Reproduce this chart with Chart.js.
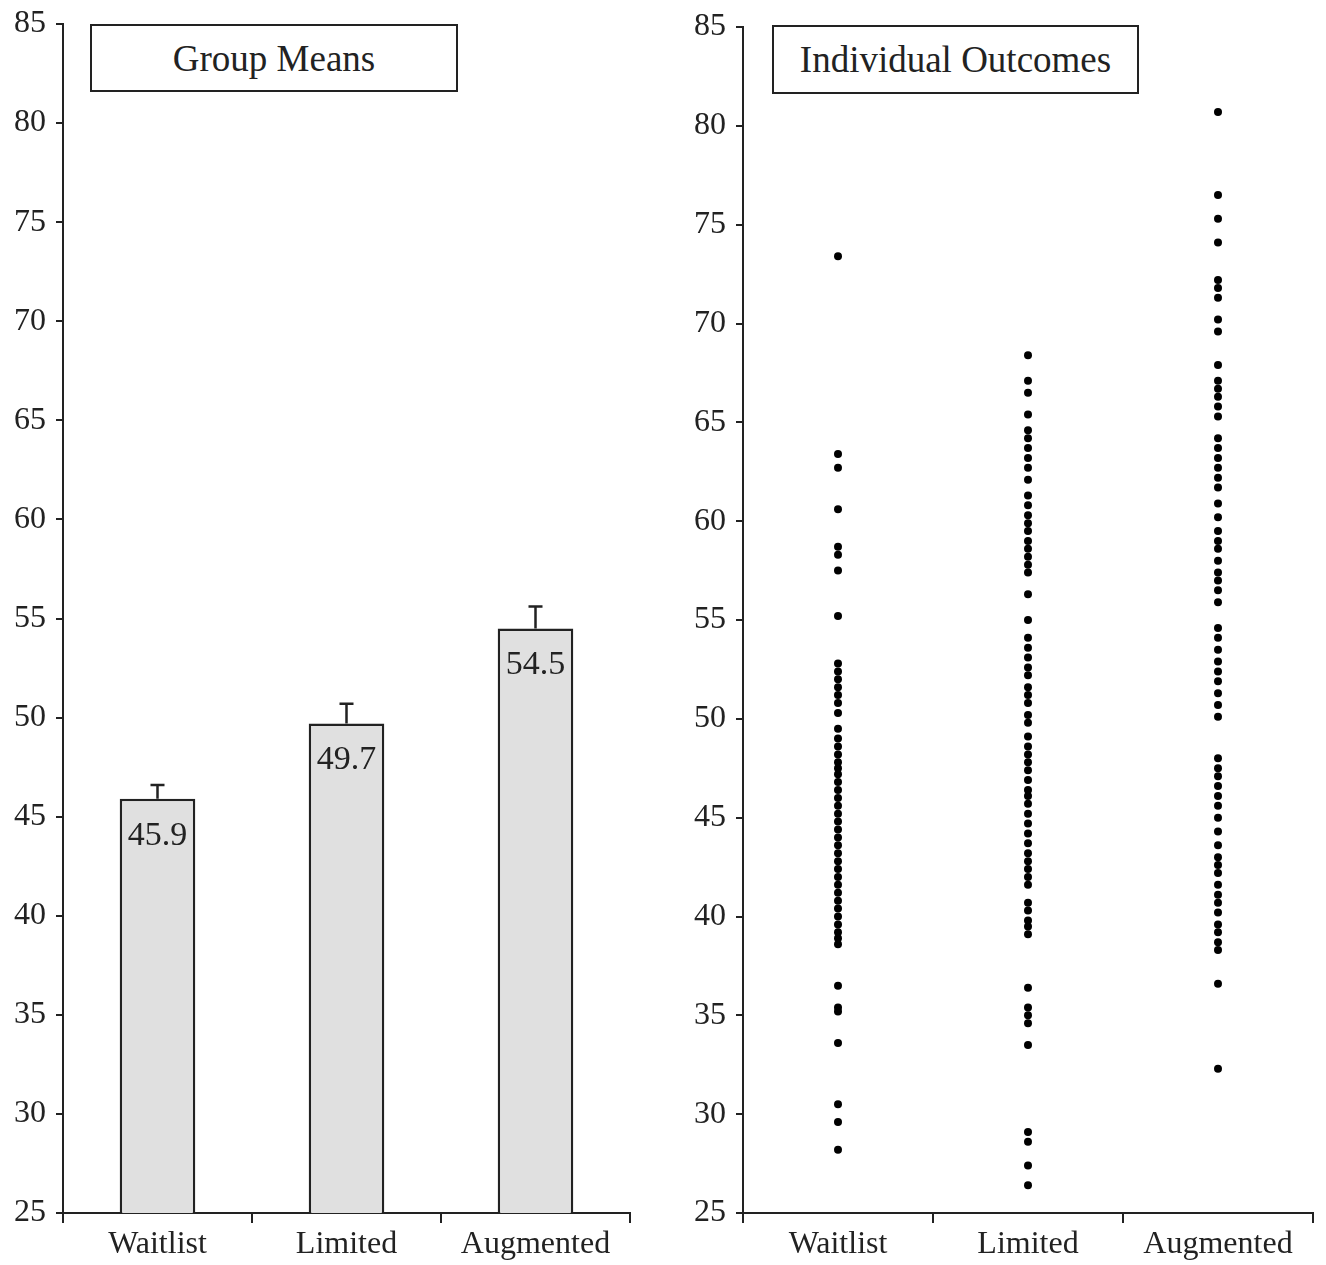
<!DOCTYPE html>
<html>
<head>
<meta charset="utf-8">
<script src="https://cdn.jsdelivr.net/npm/chart.js@4/dist/chart.umd.min.js"></script>
<style>
  body { margin: 0; background: #fff; }
  #wrap { position: relative; width: 1326px; height: 1265px; }
  .pane { position: absolute; top: 0; height: 1265px; }
  .box {
    position: absolute; border: 2px solid #222; background: #fff;
    font-family: "Liberation Serif", serif; font-size: 37px; color: #222;
    display: flex; align-items: center; justify-content: center; box-sizing: border-box;
  }
</style>
</head>
<body>
<div id="wrap">
  <div class="pane" style="left:0;width:660px"><canvas id="left" width="660" height="1265"></canvas></div>
  <div class="pane" style="left:660px;width:666px"><canvas id="right" width="666" height="1265"></canvas></div>
  <div class="box" style="left:90px;top:24px;width:368px;height:68px">Group Means</div>
  <div class="box" style="left:772px;top:25px;width:367px;height:69px">Individual Outcomes</div>
</div>
<script>
const categories = ["Waitlist", "Limited", "Augmented"]
const groupMeans = [45.9, 49.7, 54.5]
const groupErr = [0.7, 1.0, 1.1]

const waitlist = [73.4, 63.4, 62.7, 60.6, 58.7, 58.3, 57.5, 55.2, 52.8, 52.4, 52.0, 51.6, 51.2, 50.8, 50.3,
  49.5, 49.0, 48.6, 48.2, 47.8, 47.5, 47.2, 46.8, 46.4, 46.0, 45.6, 45.2, 44.8, 44.4, 44.0, 43.6, 43.2,
  42.8, 42.4, 42.0, 41.6, 41.2, 40.8, 40.4, 40.0, 39.6, 39.2, 38.9, 38.6, 36.5, 35.4, 35.2, 33.6, 30.5, 29.6, 28.2]
const limited = [68.4, 67.1, 66.5, 65.4, 64.6, 64.2, 63.7, 63.2, 62.7, 62.1, 61.3, 60.8, 60.3, 59.9, 59.5,
  59.0, 58.6, 58.2, 57.8, 57.4, 56.3, 55.0, 54.1, 53.6, 53.1, 52.6, 52.2, 51.6, 51.2, 50.8, 50.2, 49.8,
  49.1, 48.6, 48.2, 47.8, 47.4, 46.9, 46.4, 46.1, 45.7, 45.2, 44.7, 44.2, 43.7, 43.2, 42.8, 42.4, 42.0,
  41.6, 40.7, 40.3, 39.8, 39.5, 39.1, 36.4, 35.4, 35.0, 34.6, 33.5, 29.1, 28.6, 27.4, 26.4]
const augmented = [80.7, 76.5, 75.3, 74.1, 72.2, 71.8, 71.3, 70.2, 69.6, 67.9, 67.1, 66.7, 66.3, 65.8, 65.3,
  64.2, 63.7, 63.2, 62.7, 62.2, 61.7, 60.9, 60.2, 59.5, 59.0, 58.6, 58.0, 57.4, 57.0, 56.5, 55.9, 54.6,
  54.1, 53.5, 52.9, 52.4, 51.9, 51.3, 50.7, 50.1, 48.0, 47.5, 47.1, 46.6, 46.1, 45.6, 45.0, 44.3, 43.6,
  43.0, 42.6, 42.2, 41.6, 41.1, 40.7, 40.2, 39.6, 39.2, 38.7, 38.3, 36.6, 32.3]

const yMin = 25, yMax = 85, yStep = 5

const serif = "'Liberation Serif', 'Times New Roman', serif"
const ink = "#222"

function axes(yWidth) {
  return {
    x: {
      type: "category",
      labels: categories,
      offset: true,
      border: { display: true, color: ink, width: 2 },
      grid: { display: true, offset: true, drawOnChartArea: false, drawTicks: true, tickLength: 10, color: ink, lineWidth: 2 },
      ticks: { color: ink, font: { family: serif, size: 32 }, padding: 2, maxRotation: 0, autoSkip: false },
      afterFit: (s) => { s.height = 52 }
    },
    y: {
      min: yMin, max: yMax,
      border: { display: true, color: ink, width: 2 },
      grid: { display: true, drawOnChartArea: false, drawTicks: true, tickLength: 7, color: ink, lineWidth: 2 },
      ticks: { stepSize: yStep, color: ink, font: { family: serif, size: 32 }, padding: 10, autoSkip: false },
      // let the layout padding alone decide where the plot top sits
      afterFit: (s) => { s.width = yWidth; s.paddingTop = 0; s.paddingBottom = 0 }
    }
  }
}

// error bars (upward only) and value labels inside the bars
const barExtras = {
  id: "barExtras",
  afterDatasetsDraw(chart) {
    const ctx = chart.ctx
    const y = chart.scales.y
    const meta = chart.getDatasetMeta(0)
    ctx.save()
    meta.data.forEach((bar, i) => {
      const top = y.getPixelForValue(groupMeans[i] + groupErr[i])
      ctx.strokeStyle = ink
      ctx.lineWidth = 2.5
      ctx.beginPath()
      ctx.moveTo(bar.x, bar.y)
      ctx.lineTo(bar.x, top)
      ctx.moveTo(bar.x - 7, top)
      ctx.lineTo(bar.x + 7, top)
      ctx.stroke()
      ctx.fillStyle = ink
      ctx.font = "34px " + serif
      ctx.textAlign = "center"
      ctx.textBaseline = "middle"
      ctx.fillText(groupMeans[i].toFixed(1), bar.x, bar.y + 37)
    })
    ctx.restore()
  }
}

new Chart(document.getElementById("left"), {
  type: "bar",
  data: {
    labels: categories,
    datasets: [{
      data: groupMeans,
      backgroundColor: "#e0e0e0",
      borderColor: ink,
      borderWidth: 2.5,
      categoryPercentage: 1,
      barPercentage: 0.4
    }]
  },
  options: {
    responsive: false,
    animation: false,
    layout: { padding: { top: 24, right: 30, left: 0, bottom: 0 } },
    plugins: { legend: { display: false }, tooltip: { enabled: false } },
    scales: axes(63)
  },
  plugins: [barExtras]
})

const toPts = (cat, vals) => vals.map(v => ({ x: cat, y: v }))

new Chart(document.getElementById("right"), {
  type: "scatter",
  data: {
    datasets: [
      { data: toPts("Waitlist", waitlist) },
      { data: toPts("Limited", limited) },
      { data: toPts("Augmented", augmented) }
    ].map(d => Object.assign(d, { backgroundColor: "#000", borderColor: "#000", pointRadius: 4, borderWidth: 0 }))
  },
  options: {
    responsive: false,
    animation: false,
    layout: { padding: { top: 27, right: 13, left: 0, bottom: 0 } },
    plugins: { legend: { display: false }, tooltip: { enabled: false } },
    scales: axes(83)
  }
})
</script>
</body>
</html>
